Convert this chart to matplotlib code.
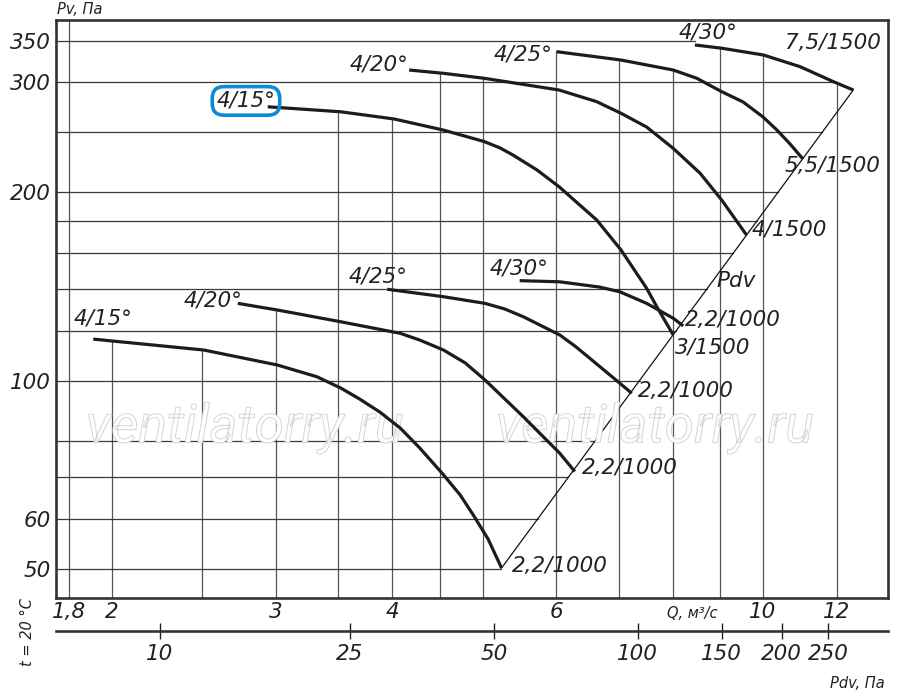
import numpy as np
import matplotlib
matplotlib.use('Agg')
import matplotlib.pyplot as plt
import matplotlib.patheffects as pe
from matplotlib.ticker import NullLocator

# Q, m3/s  /  Pv, Pa
# 1000 rpm, 2,2 kW
q_15_lo = [1.91, 2.00, 2.51, 3.01, 3.32, 3.52, 3.69, 3.88, 4.08, 4.28, 4.53, 4.73, 4.88, 5.07, 5.24]
p_15_lo = [116.5, 115.7, 111.9, 105.9, 101.4, 97.3, 93.4, 89.0, 83.9, 78.0, 70.9, 65.6, 61.1, 55.7, 50.1]
q_20_lo = [2.73, 3.01, 3.52, 4.08, 4.28, 4.54, 4.79, 5.03, 5.53, 6.05, 6.28]
p_20_lo = [132.9, 129.7, 124.2, 119.0, 116.1, 111.9, 106.7, 100.2, 87.5, 76.5, 71.5]
q_25_lo = [3.95, 4.54, 5.03, 5.28, 5.53, 6.05, 6.28, 6.52, 7.02, 7.23]
p_25_lo = [140.0, 136.2, 132.9, 130.2, 126.5, 118.3, 113.6, 108.5, 99.0, 95.4]
q_30_lo = [5.48, 6.05, 6.68, 7.02, 7.50, 8.01, 8.21]
p_30_lo = [144.5, 143.9, 141.1, 138.7, 132.9, 125.8, 122.3]
# 1500 rpm
q_15_hi = [2.94, 3.52, 4.02, 4.54, 5.02, 5.22, 5.39, 5.72, 6.04, 6.63, 7.04, 7.50, 7.69, 8.01]
p_15_hi = [274.3, 269.3, 262.2, 251.7, 241.3, 235.7, 229.6, 217.3, 204.3, 180.7, 161.8, 140.5, 131.3, 118.3]
q_20_hi = [4.17, 4.54, 5.02, 6.04, 6.63, 7.04, 7.50, 8.01, 8.56, 9.03, 9.60]
p_20_hi = [314.1, 310.3, 304.7, 291.8, 279.5, 267.8, 254.6, 235.3, 214.7, 194.5, 171.0]
q_25_hi = [6.00, 7.03, 8.01, 8.49, 9.03, 9.52, 10.00, 10.35, 10.69, 11.04]
p_25_hi = [336.1, 326.0, 314.1, 304.7, 290.0, 279.2, 264.2, 251.8, 239.2, 226.2]
q_30_hi = [8.45, 9.03, 10.01, 10.96, 11.90, 12.50]
p_30_hi = [344.5, 340.4, 332.0, 318.0, 300.9, 291.8]

# Pdv line through the curve ends
pdv_q = [5.24, 12.50]
pdv_p = [50.1, 291.8]

# grid and ticks
vgrid = [1.8, 2, 2.5, 3, 3.5, 4, 4.5, 5, 6, 7, 8, 9, 10, 12]
hgrid = [50, 60, 70, 80, 100, 120, 140, 160, 180, 200, 250, 300, 350]
q_ticks = [1.8, 2, 3, 4, 6, 10, 12]
q_labels = ['1,8', '2', '3', '4', '6', '10', '12']
p_ticks = [50, 60, 100, 200, 300, 350]
pdv_ticks = [10, 25, 50, 100, 150, 200, 250]

lower = [(q_15_lo, p_15_lo), (q_20_lo, p_20_lo), (q_25_lo, p_25_lo), (q_30_lo, p_30_lo)]
upper = [(q_15_hi, p_15_hi), (q_20_hi, p_20_hi), (q_25_hi, p_25_hi), (q_30_hi, p_30_hi)]

xlim = (1.742, 13.62)
ylim = (44.86, 378.4)

plt.rcParams['font.family'] = 'DejaVu Sans'
plt.rcParams['font.style'] = 'italic'

fig = plt.figure(figsize=(9, 6.95), dpi=100)
ax = fig.add_axes([56 / 900, 1 - 598 / 695, 832 / 900, 578.5 / 695])
ax.set_xscale('log')
ax.set_yscale('log')
ax.set_xlim(*xlim)
ax.set_ylim(*ylim)


def loginterp(x, xs, ys):
    return np.exp(np.interp(np.log(x), np.log(xs), np.log(ys)))


def envelope(q, curves):
    top = None
    for qs, ps in curves:
        if qs[0] <= q <= qs[-1]:
            v = loginterp(q, qs, ps)
            top = v if top is None else max(top, v)
    return top


def diag_q(p):
    lq0, lq1 = np.log(pdv_q)
    lp0, lp1 = np.log(pdv_p)
    return np.exp(lq0 + (np.log(p) - lp0) * (lq1 - lq0) / (lp1 - lp0))


gc = '#555555'
# vertical grid lines stop under the curves
for q in vgrid:
    top = envelope(q, lower if q <= 3 else lower + upper)
    if top is None:
        top = ylim[1]
    ax.plot([q, q], [ylim[0], top], color=gc, lw=0.9, zorder=1)

# horizontal grid lines stop at the Pdv line
top_start = max(upper, key=lambda c: c[1][0])
for p in hgrid:
    end = min(diag_q(p), 12)
    if p > top_start[1][0]:
        end = top_start[0][0]
    ax.plot([xlim[0], end], [p, p], color='#3a3a3a', lw=0.9, zorder=1)

ax.plot(pdv_q, pdv_p, color='#111111', lw=0.9, zorder=2)

for qs, ps in lower + upper:
    ax.plot(qs, ps, color='#1c1c1c', lw=2.3, zorder=3, solid_capstyle='butt',
            solid_joinstyle='round')

fs = 15.5
for txt, q, p in [('4/15°', 1.956, 125.9), ('4/20°', 2.567, 134.5),
                  ('4/25°', 3.86, 147.0), ('4/30°', 5.47, 151.4),
                  ('4/20°', 3.87, 321.0), ('4/25°', 5.52, 332.0),
                  ('4/30°', 8.73, 361.0)]:
    ax.text(q, p, txt, fontsize=fs, ha='center', va='center', color='#222222', zorder=4)

ax.text(2.786, 280.3, '4/15°', fontsize=fs, ha='center', va='center', color='#222222', zorder=4,
        bbox=dict(boxstyle='round,pad=0.2,rounding_size=0.55', fc='none', ec='#0a8ad8', lw=2.6))

for txt, q, p in [('2,2/1000', 5.38, 50.5), ('2,2/1000', 6.39, 72.4),
                  ('2,2/1000', 7.34, 96.2), ('2,2/1000', 8.25, 125.0),
                  ('3/1500', 8.04, 113.1), ('Pdv', 8.92, 144.3),
                  ('4/1500', 9.73, 174.8), ('5,5/1500', 10.56, 220.5),
                  ('7,5/1500', 10.56, 347.0)]:
    ax.text(q, p, txt, fontsize=fs, ha='left', va='center', color='#222222', zorder=4)

# watermark (outline only)
for xa in [0.227, 0.72]:
    ax.text(xa, 0.294, 'ventilatorry.ru', transform=ax.transAxes, fontsize=38.5,
            family='Roboto', style='italic', ha='center', va='center',
            color=(1, 1, 1, 0), zorder=2,
            path_effects=[pe.Stroke(linewidth=0.7, foreground='#d4d4d4', alpha=1)])

ax.set_xticks(q_ticks)
ax.set_xticklabels(q_labels)
ax.set_yticks(p_ticks)
ax.set_yticklabels([str(v) for v in p_ticks])
ax.xaxis.set_minor_locator(NullLocator())
ax.yaxis.set_minor_locator(NullLocator())
ax.tick_params(axis='both', length=0, labelsize=fs, colors='#222222')
ax.tick_params(axis='x', pad=3)
ax.tick_params(axis='y', pad=4)
for s in ax.spines.values():
    s.set_linewidth(1.9)
    s.set_color('#333333')
    s.set_zorder(5)

# Pdv scale under the chart
axp = fig.add_axes([56 / 900, 1 - 630.7 / 695, 832 / 900, 0])
axp.set_xscale('log')
axp.set_xlim(6.07, 334)
axp.set_xticks(pdv_ticks)
axp.set_xticklabels([str(v) for v in pdv_ticks])
axp.xaxis.set_minor_locator(NullLocator())
axp.set_yticks([])
axp.patch.set_visible(False)
for s in ['top', 'left', 'right']:
    axp.spines[s].set_visible(False)
axp.spines['bottom'].set_linewidth(1.9)
axp.spines['bottom'].set_color('#333333')
axp.tick_params(axis='x', direction='inout', length=11, width=1, pad=4,
                labelsize=fs, colors='#222222')

fig.text(57 / 900, 1 - 10 / 695, 'Pv, Па', fontsize=10.5, ha='left', va='center', color='#222222')
fig.text(27 / 900, 1 - 632 / 695, 't = 20 °C', fontsize=10.5, rotation=90, ha='center', va='center', color='#222222')
fig.text(692 / 900, 1 - 613 / 695, 'Q, м³/с', fontsize=10.5, ha='center', va='center', color='#222222')
fig.text(885 / 900, 1 - 683 / 695, 'Pdv, Па', fontsize=10.5, ha='right', va='center', color='#222222')

fig.savefig('out.png', dpi=100, facecolor='white')
